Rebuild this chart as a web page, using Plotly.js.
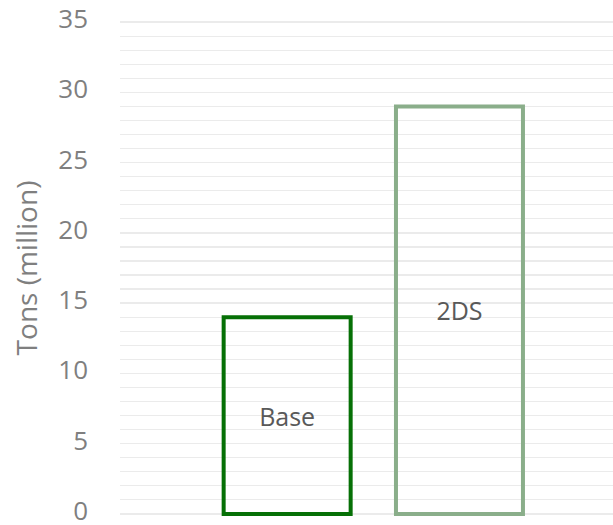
<!DOCTYPE html>
<html><head><meta charset="utf-8">
<script src="https://cdn.plot.ly/plotly-3.0.1.min.js"></script>
<style>html,body{margin:0;padding:0;background:#fff}#chart{width:613px;height:525px}</style>
</head><body><div id="chart"></div>
<script>
const categories = ["Base", "2DS"];
const values = [14, 29];
const barColors = ["#067006", "#8aae8a"];
const yTickVals = [0, 5, 10, 15, 20, 25, 30, 35];

const trace = {
  type: "bar",
  x: [0, 1],
  y: values,
  text: categories,
  textposition: "inside",
  insidetextanchor: "middle",
  textangle: 0,
  insidetextfont: {family: "Open Sans, Liberation Sans, sans-serif", size: 25, color: "#595959"},
  marker: {color: "rgba(255,255,255,0)", line: {color: barColors, width: 4}},
  width: 0.737,
  cliponaxis: false,
  hoverinfo: "none"
};

const layout = {
  width: 613, height: 525,
  margin: {l: 120, r: 0, t: 20, b: 9},
  paper_bgcolor: "#fff", plot_bgcolor: "#fff",
  showlegend: false,
  font: {family: "Open Sans, Liberation Sans, sans-serif", color: "#7f7f7f"},
  xaxis: {range: [-0.970, 1.891], showticklabels: false, showgrid: false, zeroline: false, showline: false, ticks: ""},
  yaxis: {
    range: [-0.15, 35.15], tickvals: yTickVals, ticktext: yTickVals.map(String),
    tickfont: {size: 26, color: "#7f7f7f"},
    ticklabeloverflow: "allow",
    ticklabelshift: -3,
    showgrid: true, gridcolor: "#ebebeb", gridwidth: 1.3,
    minor: {dtick: 1, showgrid: true, gridcolor: "#ebebeb", gridwidth: 1.3},
    zeroline: false, showline: false, ticks: "",
    ticklabelstandoff: 31,
    title: {text: "Tons (million)", font: {size: 28, color: "#7f7f7f"}, standoff: 12}
  }
};
Plotly.newPlot("chart", [trace], layout, {displayModeBar: false, staticPlot: true});
</script></body></html>
